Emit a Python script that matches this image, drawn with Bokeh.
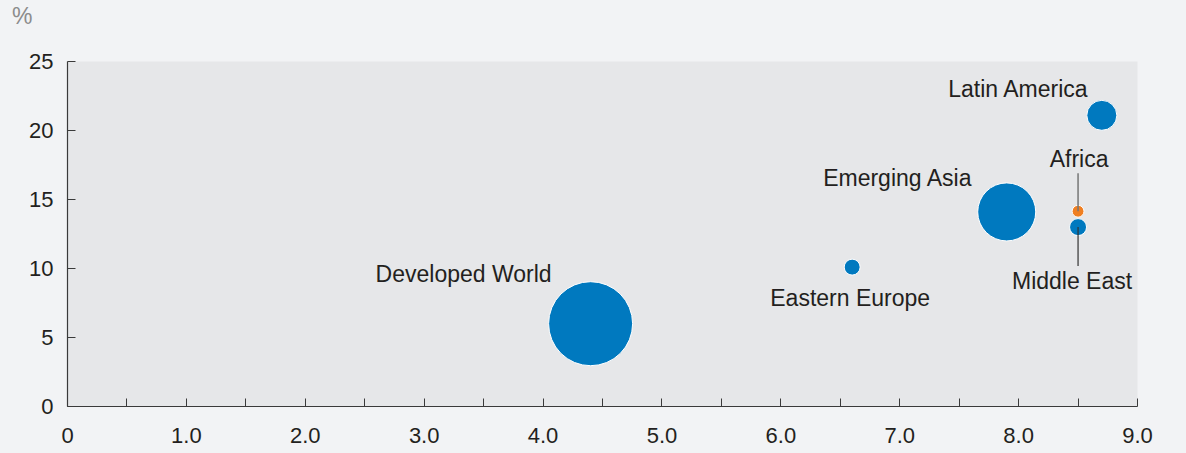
from bokeh.plotting import figure
from bokeh.models import Range1d, FixedTicker, Label, ColumnDataSource, Div
from bokeh.layouts import column
from bokeh.embed import file_html
from bokeh.resources import INLINE
import math

# Regional data: x = horizontal measure, y = percentage, weight drives bubble area
regions = ["Developed World", "Eastern Europe", "Emerging Asia", "Latin America", "Middle East", "Africa"]
x_vals = [4.4, 6.6, 7.9, 8.7, 8.5, 8.5]
y_vals = [6.0, 10.1, 14.1, 21.1, 13.0, 14.15]
weights = [100.0, 3.6, 47.7, 12.8, 4.1, 2.0]

x_ticks = [0, 1, 2, 3, 4, 5, 6, 7, 8, 9]
x_tick_labels = ["0", "1.0", "2.0", "3.0", "4.0", "5.0", "6.0", "7.0", "8.0", "9.0"]
x_minor_ticks = [0.5, 1.5, 2.5, 3.5, 4.5, 5.5, 6.5, 7.5, 8.5]
y_ticks = [0, 5, 10, 15, 20, 25]
unit_label = "%"

BLUE = "#0079bf"
ORANGE = "#ef7f22"
TEXT = "#231f20"
FONT = "Liberation Sans"
PAGE_BG = "#f2f3f5"

HEADER_H = 31
FRAME_W, FRAME_H = 1070, 345
X_MAX, Y_MAX = 9, 25
px_per_y = FRAME_H / Y_MAX

max_d = 84.0
sizes = [max_d * math.sqrt(w / max(weights)) for w in weights]
colors = [ORANGE if r == "Africa" else BLUE for r in regions]

source = ColumnDataSource(dict(x=x_vals, y=y_vals, size=sizes, color=colors, region=regions))

p = figure(
    frame_width=FRAME_W, frame_height=FRAME_H,
    x_range=Range1d(0, X_MAX), y_range=Range1d(0, Y_MAX),
    output_backend="svg", toolbar_location=None,
    min_border_left=67, min_border_right=49, min_border_top=61 - HEADER_H, min_border_bottom=47,
    background_fill_color="#e6e7e9", border_fill_color=PAGE_BG,
    outline_line_color=None,
)
p.grid.visible = False

# axes
for ax in (p.xaxis[0], p.yaxis[0]):
    ax.axis_line_color = "#3a3a3a"
    ax.axis_line_width = 1.2
    ax.major_tick_line_color = "#3a3a3a"
    ax.minor_tick_line_color = "#3a3a3a"
    ax.major_tick_in = 8
    ax.major_tick_out = 0
    ax.major_label_text_font = FONT
    ax.major_label_text_font_size = "22px"
    ax.major_label_text_color = TEXT

p.xaxis.ticker = FixedTicker(ticks=x_ticks, minor_ticks=x_minor_ticks)
p.xaxis.major_label_overrides = {t: lab for t, lab in zip(x_ticks, x_tick_labels)}
p.xaxis.minor_tick_in = 8
p.xaxis.minor_tick_out = 0
p.xaxis.major_label_standoff = 21

p.yaxis.ticker = FixedTicker(ticks=y_ticks)
p.yaxis.minor_tick_line_color = None
p.yaxis.major_label_standoff = 14

# bubbles
p.scatter("x", "y", size="size", fill_color="color", line_color="white",
          line_width=1, source=source)

# leader lines for the two small overlapping bubbles
i_af = regions.index("Africa")
i_me = regions.index("Middle East")
p.segment(x0=[x_vals[i_af]], y0=[y_vals[i_af]], x1=[x_vals[i_af]],
          y1=[y_vals[i_af] + 38 / px_per_y], line_color="#777777", line_width=1.5)
p.segment(x0=[x_vals[i_me]], y0=[y_vals[i_me]], x1=[x_vals[i_me]],
          y1=[y_vals[i_me] - 39 / px_per_y], line_color="#333333", line_width=1.2)

# region labels: (x offset px, y offset px, alignment)
label_layout = {
    "Developed World": (-39, 50, "right"),
    "Eastern Europe": (-2, -31, "center"),
    "Emerging Asia": (-34, 34, "right"),
    "Latin America": (-13, 26, "right"),
    "Africa": (1, 52, "center"),
    "Middle East": (-6, -54, "center"),
}
for r, x, y in zip(regions, x_vals, y_vals):
    dx, dy, align = label_layout[r]
    p.add_layout(Label(x=x, y=y, x_offset=dx, y_offset=dy, text=r,
                       text_align=align, text_baseline="alphabetic",
                       text_font=FONT, text_font_size="23px", text_color=TEXT))

# unit marker above the y axis
header = Div(
    text=unit_label, width=1186, height=HEADER_H, margin=(0, 0, 0, 0),
    styles={
        "background-color": PAGE_BG, "color": "#8c8c8c",
        "font-family": FONT, "font-size": "23px", "line-height": "23px",
        "padding-left": "12px", "padding-top": "5px", "box-sizing": "border-box",
        "width": "1186px", "height": f"{HEADER_H}px",
    },
)

layout = column(header, p, spacing=0, margin=(0, 0, 0, 0), styles={"background-color": PAGE_BG})

open("out.html", "w").write(file_html(layout, INLINE))
